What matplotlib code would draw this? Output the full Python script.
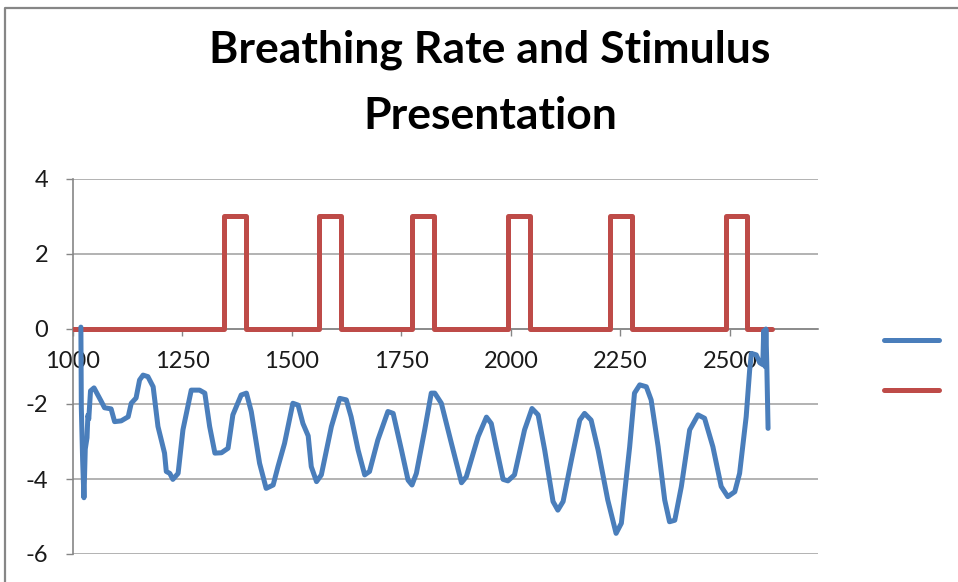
import matplotlib
matplotlib.use("Agg")
import matplotlib.pyplot as plt
from matplotlib.lines import Line2D

plt.rcParams["axes.unicode_minus"] = False

# breathing trace (blue)
breath_x = [1018, 1019, 1022, 1025, 1028, 1032, 1034, 1036, 1040, 1048,
            1065, 1072, 1087, 1095, 1110, 1126, 1133, 1144, 1152, 1160,
            1171, 1183, 1194, 1209, 1213, 1221, 1228, 1240, 1251, 1270,
            1278, 1289, 1301, 1312, 1324, 1339, 1354, 1365, 1384, 1396,
            1407, 1426, 1441, 1457, 1468, 1483, 1502, 1514, 1525, 1537,
            1544, 1556, 1567, 1590, 1609, 1624, 1635, 1651, 1666, 1677,
            1696, 1719, 1731, 1750, 1765, 1774, 1784, 1803, 1818, 1826,
            1841, 1864, 1887, 1898, 1925, 1944, 1955, 1966, 1982, 1993,
            2008, 2031, 2048, 2062, 2077, 2096, 2107, 2119, 2138, 2157,
            2168, 2183, 2199, 2221, 2240, 2252, 2271, 2282, 2294, 2309,
            2320, 2336, 2351, 2362, 2374, 2389, 2408, 2427, 2442, 2461,
            2480, 2495, 2511, 2522, 2537, 2545, 2549, 2560, 2568, 2575,
            2577, 2580, 2582, 2584, 2587]
breath_y = [0.05, -2.1, -3.5, -4.5, -3.2, -2.9, -2.3, -2.4, -1.65, -1.57,
            -1.94, -2.1, -2.13, -2.47, -2.45, -2.34, -1.98, -1.84, -1.36, -1.23,
            -1.27, -1.54, -2.6, -3.31, -3.8, -3.85, -4.01, -3.85, -2.69, -1.63,
            -1.63, -1.63, -1.71, -2.6, -3.31, -3.3, -3.18, -2.29, -1.76, -1.71,
            -2.2, -3.58, -4.25, -4.16, -3.67, -3.05, -1.98, -2.03, -2.52, -2.85,
            -3.67, -4.07, -3.89, -2.6, -1.85, -1.89, -2.34, -3.23, -3.89, -3.8,
            -2.96, -2.2, -2.25, -3.23, -4.03, -4.16, -3.85, -2.69, -1.71, -1.71,
            -1.98, -3.05, -4.1, -3.94, -2.87, -2.35, -2.52, -3.14, -4.01, -4.05,
            -3.89, -2.69, -2.12, -2.29, -3.23, -4.6, -4.83, -4.6, -3.49, -2.43,
            -2.25, -2.43, -3.23, -4.56, -5.45, -5.18, -3.14, -1.71, -1.49, -1.54,
            -1.89, -3.14, -4.56, -5.14, -5.1, -4.2, -2.69, -2.29, -2.38, -3.14,
            -4.2, -4.47, -4.34, -3.85, -2.34, -1.09, -0.65, -0.69, -0.9, -0.95,
            -0.05, -1.0, 0.0, -0.9, -2.65]

# stimulus presentation (red), on = 3, off = 0
stim_x = [1000, 1345, 1345, 1396, 1396, 1562, 1562, 1613, 1613,
          1775, 1775, 1824, 1824, 1994, 1994, 2043, 2043,
          2226, 2226, 2277, 2277, 2491, 2491, 2540, 2540, 2595]
stim_y = [0, 0, 3, 3, 0, 0, 3, 3, 0,
          0, 3, 3, 0, 0, 3, 3, 0,
          0, 3, 3, 0, 0, 3, 3, 0, 0]

x_ticks = [1000, 1250, 1500, 1750, 2000, 2250, 2500]
y_ticks = [-6, -4, -2, 0, 2, 4]

blue = "#4a7ebb"
red = "#be4b48"
axis_grey = "#868686"
grid_grey = "#a6a6a6"

fig = plt.figure(figsize=(9.58, 5.82), dpi=100)
ax = fig.add_axes([73 / 958, 28 / 582, 745 / 958, 375 / 582])

ax.plot(stim_x, stim_y, color=red, lw=3.6, solid_joinstyle="round",
        solid_capstyle="round", zorder=3)
ax.plot(breath_x, breath_y, color=blue, lw=3.6, solid_joinstyle="round",
        solid_capstyle="round", zorder=4)

ax.set_xlim(1000, 2701)
ax.set_ylim(-6, 4)
ax.set_xticks(x_ticks)
ax.set_yticks(y_ticks)

ax.grid(axis="y", color=grid_grey, lw=1.2)
ax.set_axisbelow(True)
for s in ["top", "right"]:
    ax.spines[s].set_visible(False)
ax.spines["bottom"].set_position(("data", 0))
ax.spines["bottom"].set_color(axis_grey)
ax.spines["left"].set_color(axis_grey)
ax.spines["bottom"].set_linewidth(1.2)
ax.spines["left"].set_linewidth(1.2)

ax.tick_params(axis="x", direction="out", length=5, width=1, color=axis_grey,
               pad=11, labelsize=17)
ax.tick_params(axis="y", direction="out", length=5, width=1, color=axis_grey,
               pad=13, labelsize=17)
for lab in ax.get_xticklabels() + ax.get_yticklabels():
    lab.set_family("Lato")
    lab.set_color("#1a1a1a")

# legend entries have no text in the original
handles = [Line2D([], [], color=blue, lw=3.6, solid_capstyle="round"),
           Line2D([], [], color=red, lw=3.6, solid_capstyle="round")]
ax.legend(handles, [" ", " "], loc="center left",
          bbox_to_anchor=(870 / 958, 1 - 367 / 582),
          bbox_transform=fig.transFigure, frameon=False,
          fontsize=20, handlelength=2.0, labelspacing=0.78,
          handletextpad=0.1, borderpad=0)

fig.text(490 / 958, 1 - 50 / 582, "Breathing Rate and Stimulus",
         ha="center", va="center", family="Lato", weight="bold", fontsize=32)
fig.text(490 / 958, 1 - 116 / 582, "Presentation",
         ha="center", va="center", family="Lato", weight="bold", fontsize=32)

# chart area border (only left and top edges fall inside the picture)
fig.add_artist(Line2D([5 / 958, 5 / 958, 1.0], [0.0, 1 - 8 / 582, 1 - 8 / 582],
                      transform=fig.transFigure, color=axis_grey, lw=1.6))

fig.savefig("out.png", dpi=100)
